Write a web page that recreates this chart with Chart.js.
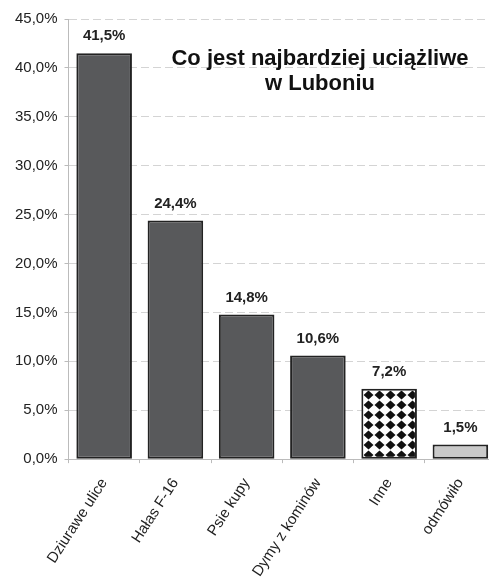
<!DOCTYPE html>
<html>
<head>
<meta charset="utf-8">
<script src="https://cdn.jsdelivr.net/npm/chart.js@4/dist/chart.umd.min.js"></script>
<style>
  html, body { margin: 0; padding: 0; background: #fff; overflow: hidden; }
  #wrap { width: 489px; height: 578px; overflow: hidden; }
</style>
</head>
<body>
<div id="wrap"><canvas id="barChart" width="496" height="592"></canvas></div>
<script>
const categories = ['Dziurawe ulice', 'Hałas F-16', 'Psie kupy', 'Dymy z kominów', 'Inne', 'odmówiło'];
const shares = [41.5, 24.4, 14.8, 10.6, 7.2, 1.5];
const titleLines = ['Co jest najbardziej uciążliwe', 'w Luboniu'];

const FONT = '"Liberation Sans", Arial, sans-serif';

// diamond pattern for "Inne"
const makePattern = () => {
    const tile = document.createElement('canvas');
    tile.width = 11;
    tile.height = 10;
    const t = tile.getContext('2d');
    t.fillStyle = '#fff';
    t.fillRect(0, 0, 11, 10);
    t.fillStyle = '#111';
    t.beginPath();
    t.moveTo(5.5, 0.5);
    t.lineTo(10.5, 5);
    t.lineTo(5.5, 9.5);
    t.lineTo(0.5, 5);
    t.closePath();
    t.fill();
    return document.getElementById('barChart').getContext('2d').createPattern(tile, 'repeat');
};

const dark = '#58595b';
const fills = [dark, dark, dark, dark, makePattern(), '#c9c9c9'];

const valueLabels = {
    id: 'valueLabels',
    afterDatasetsDraw(chart) {
        const ctx = chart.ctx;
        const meta = chart.getDatasetMeta(0);
        ctx.save();
        ctx.font = 'bold 15px ' + FONT;
        ctx.fillStyle = '#222';
        ctx.textAlign = 'center';
        ctx.textBaseline = 'middle';
        meta.data.forEach((bar, i) => {
            ctx.fillText(shares[i].toFixed(1).replace('.', ',') + '%', bar.x, bar.y - 17);
        });
        ctx.restore();
    }
};

const innerTitle = {
    id: 'innerTitle',
    afterDraw(chart) {
        const ctx = chart.ctx;
        ctx.save();
        ctx.font = 'bold 22px ' + FONT;
        ctx.fillStyle = '#111';
        ctx.textAlign = 'center';
        ctx.textBaseline = 'middle';
        ctx.fillText(titleLines[0], 320, 59);
        ctx.fillText(titleLines[1], 320, 84);
        ctx.restore();
    }
};

new Chart(document.getElementById('barChart').getContext('2d'), {
    type: 'bar',
    data: {
        labels: categories,
        datasets: [{
            data: shares,
            backgroundColor: fills,
            borderColor: '#222',
            borderWidth: 2,
            borderSkipped: false,
            categoryPercentage: 1,
            barPercentage: 0.78
        }]
    },
    options: {
        responsive: false,
        maintainAspectRatio: false,
        animation: false,
        layout: { padding: { top: 19, right: 0, left: 8, bottom: 0 } },
        plugins: {
            legend: { display: false },
            tooltip: { enabled: false }
        },
        scales: {
            x: {
                offset: true,
                grid: {
                    offset: true,
                    drawOnChartArea: false,
                    drawTicks: true,
                    tickLength: 4,
                    color: '#bbb'
                },
                border: { color: '#bbb' },
                ticks: {
                    color: '#222',
                    font: { family: FONT, size: 15 },
                    minRotation: 57,
                    maxRotation: 57,
                    autoSkip: false,
                    padding: 12
                }
            },
            y: {
                min: 0,
                max: 45,
                grid: {
                    color: '#d4d4d4',
                    tickBorderDash: [],
                    tickColor: '#bbb',
                    tickLength: 4
                },
                border: { color: '#bbb', dash: [8, 4] },
                ticks: {
                    stepSize: 5,
                    color: '#222',
                    font: { family: FONT, size: 15 },
                    padding: 7,
                    callback: v => v.toFixed(1).replace('.', ',') + '%'
                }
            }
        }
    },
    plugins: [valueLabels, innerTitle]
});
</script>
</body>
</html>
